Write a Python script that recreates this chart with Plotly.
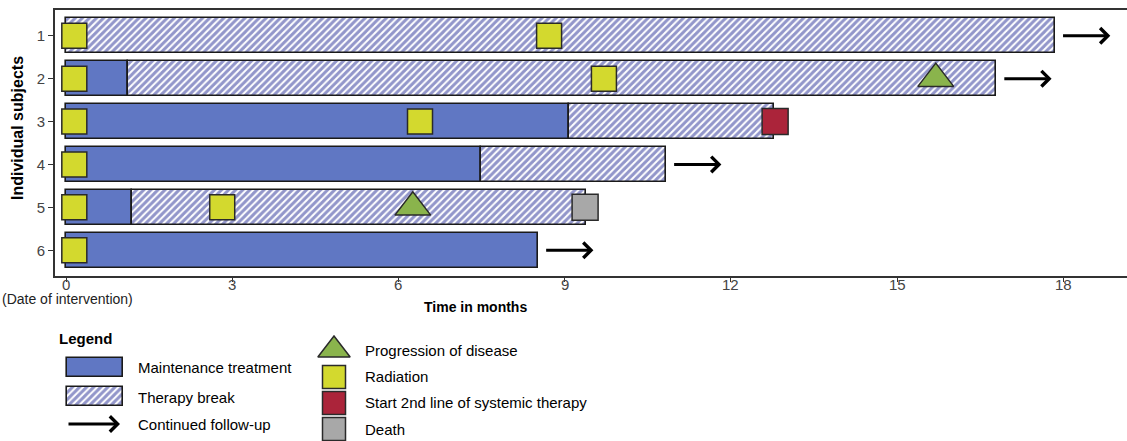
import plotly.graph_objects as go

# ---------------- data ----------------
subjects = [1, 2, 3, 4, 5, 6]
maint_end = [None, 1.12, 9.08, 7.49, 1.19, 8.52]          # maintenance treatment from 0
break_end = [17.85, 16.79, 12.78, 10.83, 9.39, None]       # therapy break after maintenance
followup_subjects = [1, 2, 4, 6]                            # continued follow-up arrows
followup_from = [17.85, 16.79, 10.83, 8.52]

radiation_x = [0.15, 8.72, 0.15, 9.71, 0.15, 6.39, 0.15, 0.15, 2.82, 0.15]
radiation_y = [1, 1, 2, 2, 3, 3, 4, 5, 5, 6]
progression_x = [15.7, 6.26]
progression_y = [2, 5]
second_line_x = [12.8]
second_line_y = [3]
death_x = [9.37]
death_y = [5]

x_ticks = [0, 3, 6, 9, 12, 15, 18]

# ---------------- styles ----------------
C_MAINT = "#6077c3"
C_HATCH = "#252d96"
C_RAD = "#d3d92e"
C_RED = "#ab243a"
C_GREY = "#a8a8a8"
C_GREEN = "#8ab44c"
C_EDGE = "#1a1a1a"
BAR_W = 0.82
HATCH = dict(shape="/", fgcolor=C_HATCH, bgcolor="white", size=5, solidity=0.6)

W, H = 1127, 441
fig = go.Figure()

# maintenance bars
mb_y = [s for s, m in zip(subjects, maint_end) if m is not None]
mb_x = [m for m in maint_end if m is not None]
fig.add_trace(go.Bar(orientation="h", y=mb_y, x=mb_x, base=[0] * len(mb_x), width=BAR_W,
                     marker=dict(color=C_MAINT, line=dict(color=C_EDGE, width=1.6)),
                     showlegend=False, hoverinfo="skip"))

# therapy break bars
tb_y, tb_base, tb_len = [], [], []
for s, m, b in zip(subjects, maint_end, break_end):
    if b is None:
        continue
    start = m if m is not None else 0
    tb_y.append(s)
    tb_base.append(start)
    tb_len.append(b - start)
fig.add_trace(go.Bar(orientation="h", y=tb_y, x=tb_len, base=tb_base, width=BAR_W,
                     marker=dict(color="white", line=dict(color=C_EDGE, width=1.6),
                                 pattern=HATCH),
                     showlegend=False, hoverinfo="skip"))

sq_line = dict(color="#2a2a2a", width=1.5)
fig.add_trace(go.Scatter(x=radiation_x, y=radiation_y, mode="markers",
                         marker=dict(symbol="square", size=25, color=C_RAD, line=sq_line),
                         showlegend=False, hoverinfo="skip"))
fig.add_trace(go.Scatter(x=second_line_x, y=second_line_y, mode="markers",
                         marker=dict(symbol="square", size=26, color=C_RED, line=sq_line),
                         showlegend=False, hoverinfo="skip"))
fig.add_trace(go.Scatter(x=death_x, y=death_y, mode="markers",
                         marker=dict(symbol="square", size=26, color=C_GREY, line=sq_line),
                         showlegend=False, hoverinfo="skip"))
fig.add_trace(go.Scatter(x=progression_x, y=progression_y, mode="markers",
                         marker=dict(symbol="triangle-up", size=31, color=C_GREEN, line=sq_line),
                         showlegend=False, hoverinfo="skip"))

annotations = []
# follow-up arrows (data coordinates)
for s, f in zip(followup_subjects, followup_from):
    annotations.append(dict(x=f + 1.0, y=s, ax=f + 0.12, ay=s, xref="x", yref="y",
                            axref="x", ayref="y", showarrow=True, arrowhead=4,
                            arrowsize=1.0, arrowwidth=3, arrowcolor="black", text=""))

# x tick labels placed close to the axis (as in the reference)
for v in x_ticks:
    annotations.append(dict(x=v, y=1 - 284 / H, xref="x", yref="paper", text=str(v),
                            showarrow=False, xanchor="center", yanchor="middle",
                            font=dict(family="Liberation Sans, Arial", size=15, color="#444")))

# axis texts
annotations.append(dict(x=67 / W, y=1 - 299 / H, xref="paper", yref="paper",
                        text="(Date of intervention)", showarrow=False,
                        font=dict(family="Liberation Sans Narrow, Arial", size=14, color="#222"),
                        xanchor="center", yanchor="middle"))
annotations.append(dict(x=475 / W, y=1 - 307 / H, xref="paper", yref="paper",
                        text="<b>Time in months</b>", showarrow=False,
                        font=dict(family="Liberation Sans Narrow, Arial", size=14, color="black"),
                        xanchor="center", yanchor="middle"))
annotations.append(dict(x=18 / W, y=1 - 128 / H, xref="paper", yref="paper",
                        text="<b>Individual subjects</b>", showarrow=False, textangle=-90,
                        font=dict(family="Liberation Sans Narrow, Arial", size=16, color="black"),
                        xanchor="center", yanchor="middle"))

# ---------------- legend (pixel axes x2/y2) ----------------
leg_font = dict(family="Liberation Sans, Arial", size=15, color="black")
annotations.append(dict(x=57, y=338, xref="x2", yref="y2", text="<b>Legend</b>",
                        showarrow=False, xanchor="left", yanchor="middle",
                        font=dict(family="Liberation Sans Narrow, Arial", size=15, color="black")))
fig.add_trace(go.Bar(orientation="h", y=[367.5], x=[56], base=[67], width=19,
                     xaxis="x2", yaxis="y2",
                     marker=dict(color=C_MAINT, line=dict(color=C_EDGE, width=1.6)),
                     showlegend=False, hoverinfo="skip"))
fig.add_trace(go.Bar(orientation="h", y=[396.5], x=[56], base=[67], width=19,
                     xaxis="x2", yaxis="y2",
                     marker=dict(color="white", line=dict(color=C_EDGE, width=1.6),
                                 pattern=HATCH),
                     showlegend=False, hoverinfo="skip"))
annotations.append(dict(x=120, y=424, ax=67, ay=424, xref="x2", yref="y2", axref="x2",
                        ayref="y2", showarrow=True, arrowhead=4, arrowsize=1.0,
                        arrowwidth=3, arrowcolor="black", text=""))
for t, yy in [("Maintenance treatment", 367), ("Therapy break", 397), ("Continued follow-up", 424)]:
    annotations.append(dict(x=136, y=yy, xref="x2", yref="y2", text=t, showarrow=False,
                            xanchor="left", yanchor="middle", font=leg_font))

fig.add_trace(go.Scatter(x=[334], y=[350], xaxis="x2", yaxis="y2", mode="markers",
                         marker=dict(symbol="triangle-up", size=28, color=C_GREEN, line=sq_line),
                         showlegend=False, hoverinfo="skip"))
fig.add_trace(go.Scatter(x=[334, 334, 334], y=[377, 403, 429], xaxis="x2", yaxis="y2",
                         mode="markers",
                         marker=dict(symbol="square", size=23, color=[C_RAD, C_RED, C_GREY],
                                     line=sq_line),
                         showlegend=False, hoverinfo="skip"))
for t, yy in [("Progression of disease", 350), ("Radiation", 376),
              ("Start 2nd line of systemic therapy", 402), ("Death", 429)]:
    annotations.append(dict(x=363, y=yy, xref="x2", yref="y2", text=t, showarrow=False,
                            xanchor="left", yanchor="middle", font=leg_font))

x0_px, px_per_month = 66, 55.4
fig.update_layout(
    width=W, height=H, margin=dict(l=0, r=0, t=0, b=0),
    paper_bgcolor="white", plot_bgcolor="rgba(0,0,0,0)",
    barmode="overlay", bargap=0, showlegend=False,
    xaxis=dict(domain=[55 / W, 1], range=[(55 - x0_px) / px_per_month, (W - x0_px) / px_per_month],
               tickvals=x_ticks, showticklabels=False,
               showgrid=False, zeroline=False, showline=True, linecolor="#333", linewidth=2,
               mirror=True, ticks="outside", ticklen=4, tickcolor="#333",
               anchor="y"),
    yaxis=dict(domain=[1 - 276 / H, 1 - 10 / H], range=[6.6, 0.4],
               tickvals=subjects, ticktext=[str(s) for s in subjects],
               showgrid=False, zeroline=False, showline=True, linecolor="#333", linewidth=2,
               ticks="outside", ticklen=5, tickcolor="#333",
               tickfont=dict(family="Liberation Sans, Arial", size=15, color="#444"),
               anchor="x"),
    xaxis2=dict(domain=[0, 1], range=[0, W], visible=False, anchor="y2", fixedrange=True),
    yaxis2=dict(domain=[0, 1], range=[H, 0], visible=False, anchor="x2", fixedrange=True),
    annotations=annotations,
)

fig.write_html("out.html", config={"displayModeBar": False},
               post_script="document.body.style.margin='0';document.body.style.overflow='hidden';")
